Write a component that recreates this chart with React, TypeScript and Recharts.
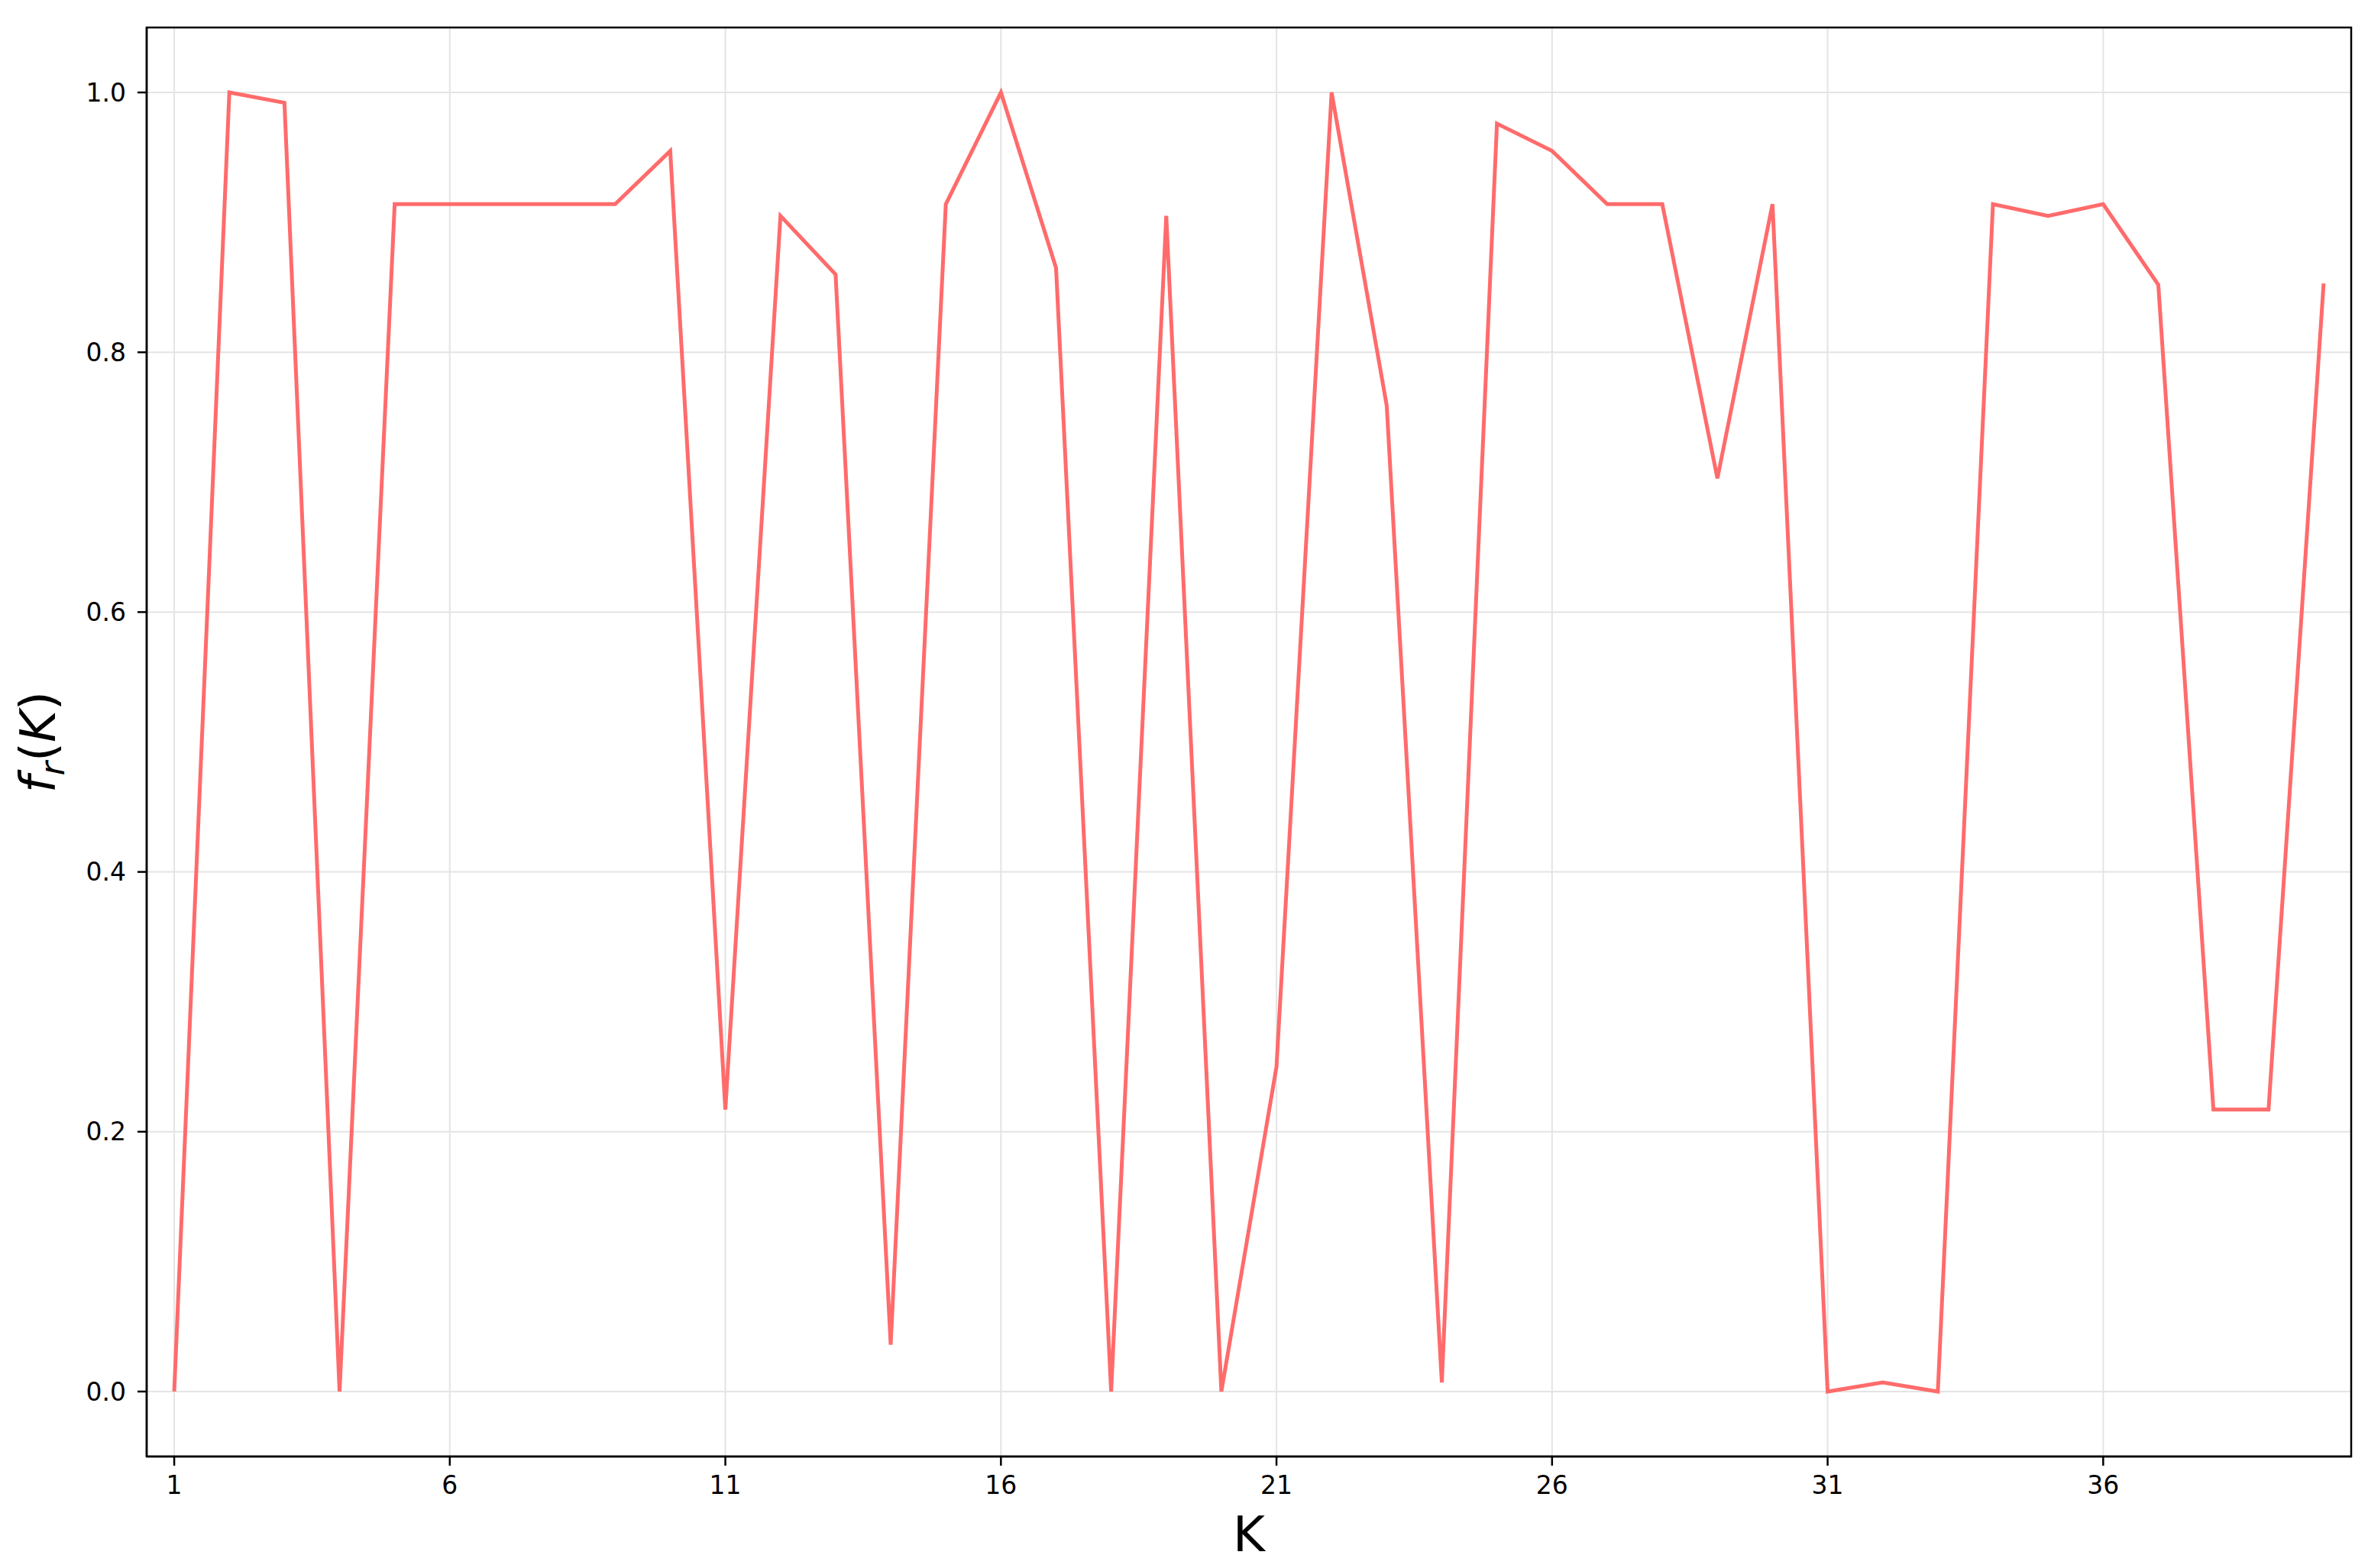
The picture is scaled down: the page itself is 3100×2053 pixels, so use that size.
import React from 'react';
import { LineChart, Line, XAxis, YAxis, CartesianGrid, ReferenceArea, Label } from 'recharts';

const kValues: number[] = [
  1, 2, 3, 4, 5, 6, 7, 8, 9, 10,
  11, 12, 13, 14, 15, 16, 17, 18, 19, 20,
  21, 22, 23, 24, 25, 26, 27, 28, 29, 30,
  31, 32, 33, 34, 35, 36, 37, 38, 39, 40,
];
const frValues: number[] = [
  0.0, 1.0, 0.992, 0.0, 0.914, 0.914, 0.914, 0.914, 0.914, 0.955,
  0.217, 0.905, 0.86, 0.036, 0.914, 1.0, 0.865, 0.0, 0.905, 0.0,
  0.25, 1.0, 0.759, 0.007, 0.976, 0.955, 0.914, 0.914, 0.703, 0.914,
  0.0, 0.007, 0.0, 0.914, 0.905, 0.914, 0.852, 0.217, 0.217, 0.853,
];
const xTicks: number[] = [1, 6, 11, 16, 21, 26, 31, 36];
const yTicks: number[] = [0, 0.2, 0.4, 0.6, 0.8, 1.0];
const xDomain: [number, number] = [0.5, 40.5];
const yDomain: [number, number] = [-0.05, 1.05];

const data = kValues.map((k, i) => ({ k, fr: frValues[i] }));

const FONT = '"DejaVu Sans", sans-serif';

const YLabel = (props: any) => {
  const vb = props.viewBox || {};
  const cy = (vb.y ?? 36) + (vb.height ?? 1871) / 2;
  const cx = 72;
  return (
    <text
      x={cx}
      y={cy}
      transform={`rotate(-90, ${cx}, ${cy})`}
      textAnchor="middle"
      fontFamily={FONT}
      fontSize={64}
      fill="#000"
    >
      <tspan fontStyle="italic">f</tspan>
      <tspan fontStyle="italic" fontSize={45} dy={12}>r</tspan>
      <tspan dy={-12}>(</tspan>
      <tspan fontStyle="italic">K</tspan>
      <tspan>)</tspan>
    </text>
  );
};

export default function App() {
  return (
    <div style={{ position: 'absolute', left: 0, top: 0, background: '#fff' }}>
      <LineChart
        width={3100}
        height={2053}
        data={data}
        margin={{ top: 36, right: 22, left: 0, bottom: 0 }}
      >
        <CartesianGrid stroke="#e4e4e4" strokeWidth={2} />
        <XAxis
          dataKey="k"
          type="number"
          domain={xDomain}
          ticks={xTicks}
          interval={0}
          height={146}
          tickSize={12}
          tickMargin={14}
          stroke="#000"
          strokeWidth={2.5}
          tick={{ fill: '#000', fontSize: 33, fontFamily: FONT }}
          tickLine={{ stroke: '#000', strokeWidth: 2.5 }}
          allowDataOverflow
        >
          <Label
            value="K"
            position="insideBottom"
            offset={22}
            style={{ fontSize: 64, fontFamily: FONT, fill: '#000' }}
          />
        </XAxis>
        <YAxis
          type="number"
          domain={yDomain}
          ticks={yTicks}
          interval={0}
          width={192}
          tickSize={12}
          tickMargin={15}
          stroke="#000"
          strokeWidth={2.5}
          tickFormatter={(v: number) => v.toFixed(1)}
          tick={{ fill: '#000', fontSize: 33, fontFamily: FONT }}
          tickLine={{ stroke: '#000', strokeWidth: 2.5 }}
          allowDataOverflow
          label={{ content: YLabel }}
        />
        <ReferenceArea
          x1={xDomain[0]}
          x2={xDomain[1]}
          y1={yDomain[0]}
          y2={yDomain[1]}
          fill="none"
          fillOpacity={0}
          stroke="#000"
          strokeWidth={2.5}
          ifOverflow="visible"
        />
        <Line
          type="linear"
          dataKey="fr"
          stroke="#ff6b6b"
          strokeWidth={5}
          dot={false}
          activeDot={false}
          isAnimationActive={false}
        />
      </LineChart>
    </div>
  );
}
